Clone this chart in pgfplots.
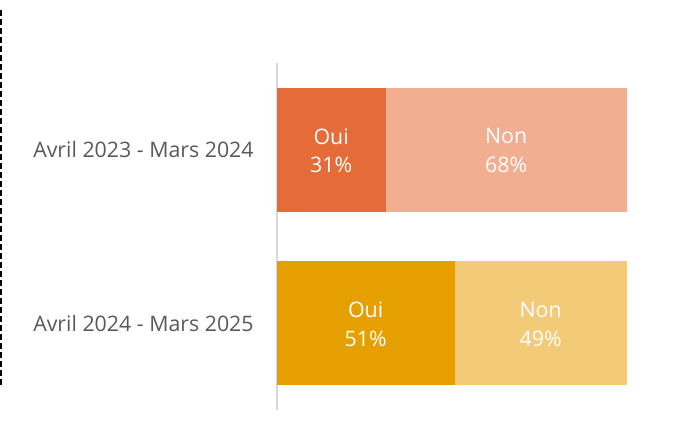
\documentclass[border=0pt]{standalone}
\usepackage{fontspec}
\setmainfont{Open Sans}
\usepackage{pgfplots}
\pgfplotsset{compat=1.18}
\definecolor{ouiA}{HTML}{E56C38}
\definecolor{nonA}{HTML}{F2AE91}
\definecolor{ouiB}{HTML}{E5A000}
\definecolor{nonB}{HTML}{F2CA78}
\definecolor{axisgray}{HTML}{D9D9D9}
\definecolor{labelgray}{HTML}{595959}
\pgfplotsset{
  common/.style={
    at={(207.4pt,15pt)}, anchor=south west,
    scale only axis, width=262.5pt, height=260.25pt,
    xmin=0, xmax=100, ymin=-0.5, ymax=1.5, y dir=reverse,
    clip=false,
  },
  lbl/.style={
    draw=none, mark=none, nodes near coords, point meta=explicit symbolic,
    nodes near coords align={anchor=center},
    every node near coord/.append style={text=white, inner sep=0pt, anchor=center,
      font=\fontsize{16}{19}\selectfont},
  },
}
\begin{document}
\begin{tikzpicture}
\path[use as bounding box] (0,0) rectangle (513pt,322.5pt);
\draw[black, line width=1.5pt, dash pattern=on 4.5pt off 2.25pt] (0.75pt,315pt) -- (0.75pt,31.5pt);
\begin{axis}[common,
  xbar stacked, bar width=0.715,
  axis x line=none, axis y line*=left,
  y axis line style={draw=axisgray, line width=1.5pt},
  ytick={0,1}, yticklabels={Avril 2023 - Mars 2024, Avril 2024 - Mars 2025},
  major tick length=0pt, ytick style={draw=none},
  yticklabel style={font=\fontsize{16}{19}\selectfont, text=labelgray, inner sep=0pt, anchor=east, xshift=-17pt},
]
\addplot[fill=ouiA, draw=none] coordinates {(31.2,0) (0,1)};
\addplot[fill=nonA, draw=none] coordinates {(68.8,0) (0,1)};
\addplot[fill=ouiB, draw=none] coordinates {(0,0) (50.9,1)};
\addplot[fill=nonB, draw=none] coordinates {(0,0) (49.1,1)};
\end{axis}
\begin{axis}[common, hide axis]
\addplot[lbl, every node near coord/.append style={yshift=10pt}] coordinates {(15.6,0) [Oui] (65.6,0) [Non] (25.45,1) [Oui] (75.45,1) [Non]};
\addplot[lbl, every node near coord/.append style={yshift=-11.5pt}] coordinates {(15.6,0) [31\%] (65.6,0) [68\%] (25.45,1) [51\%] (75.45,1) [49\%]};
\end{axis}
\end{tikzpicture}
\end{document}
